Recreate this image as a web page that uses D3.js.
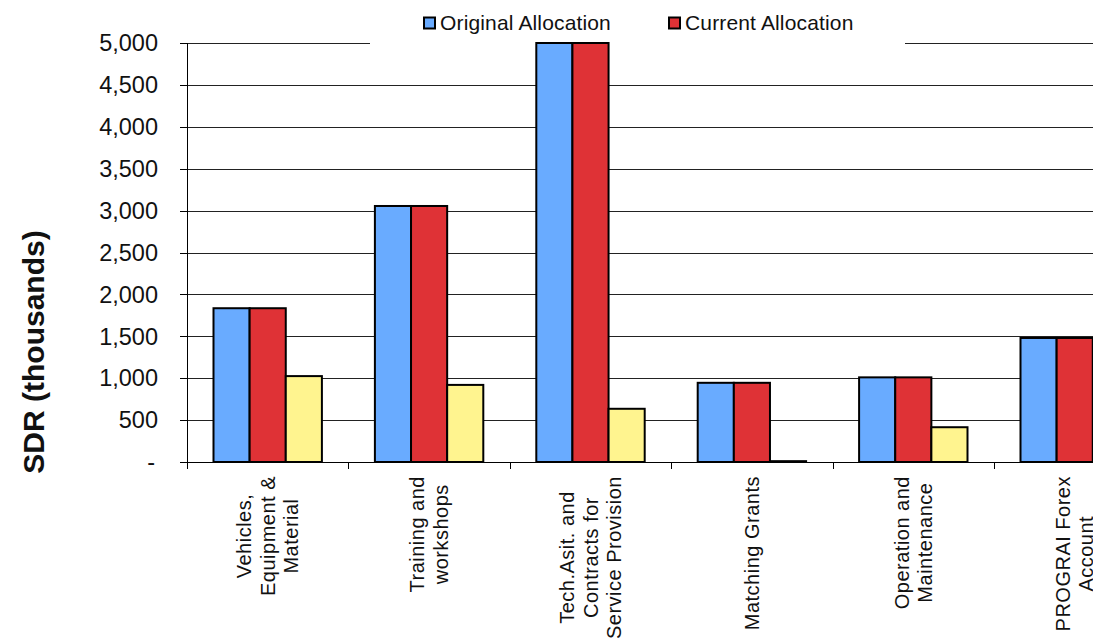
<!DOCTYPE html>
<html>
<head>
<meta charset="utf-8">
<script src="https://cdn.jsdelivr.net/npm/d3@7"></script>
<style>
  body { margin: 0; background: #fff; }
  svg { display: block; font-family: "Liberation Sans", Arial, sans-serif; }
</style>
</head>
<body>
<div id="wrapper"></div>
<script>
// # Data
const categories = [
  "Vehicles,|Equipment &|Material",
  "Training and|workshops",
  "Tech.Asit. and|Contracts for|Service Provision",
  "Matching Grants",
  "Operation and|Maintenance",
  "PROGRAI Forex|Account",
];
const originalAllocation = [1835, 3055, 5000, 945, 1010, 1480];
const currentAllocation = [1835, 3055, 5000, 945, 1010, 1480];
const disbursed = [1025, 920, 635, 10, 415, 0];
const seriesNames = ["Original Allocation", "Current Allocation", "Disbursed"];
const legendNames = ["Original Allocation", "Current Allocation"];
const yTicks = [0, 500, 1000, 1500, 2000, 2500, 3000, 3500, 4000, 4500, 5000];

function drawBars() {
  // # Dimensions
  const dimensions = {
    width: 1093,
    height: 639,
    margin: { top: 43, left: 187 },
    bandWidth: 161.4,
    boundedHeight: 419,
  };

  const colors = {
    "Original Allocation": "#69abff",
    "Current Allocation": "#df3236",
    "Disbursed": "#fff48f",
  };

  const dataset = categories.map((c, i) => ({
    category: c,
    values: [originalAllocation[i], currentAllocation[i], disbursed[i]],
  }));

  // # Canvas
  const wrapper = d3.select("#wrapper")
    .append("svg")
    .attr("width", dimensions.width)
    .attr("height", dimensions.height);

  // # Scales
  const yScale = d3.scaleLinear()
    .domain([0, 5000])
    .range([dimensions.margin.top + dimensions.boundedHeight, dimensions.margin.top]);

  const xScale = d3.scaleBand()
    .domain(categories)
    .range([dimensions.margin.left, dimensions.margin.left + dimensions.bandWidth * categories.length]);

  const seriesScale = d3.scaleBand()
    .domain(seriesNames)
    .range([26.5, dimensions.bandWidth - 26.5]);

  const y0 = yScale(0);

  // # Gridlines
  wrapper.append("g")
    .selectAll("line")
    .data(yTicks.filter(d => d > 0))
    .join("line")
    .attr("x1", dimensions.margin.left)
    .attr("x2", dimensions.width)
    .attr("y1", d => Math.round(yScale(d)) + 0.5)
    .attr("y2", d => Math.round(yScale(d)) + 0.5)
    .attr("stroke", "#222")
    .attr("stroke-width", 1);

  // # Legend box (hides part of the top gridline)
  const legend = wrapper.append("g");
  legend.append("rect")
    .attr("x", 370)
    .attr("y", 0)
    .attr("width", 535)
    .attr("height", 44)
    .attr("fill", "#fff");

  const legendItems = legend.selectAll("g")
    .data(legendNames)
    .join("g")
    .attr("transform", (d, i) => `translate(${424 + i * 245}, 23)`);

  legendItems.append("rect")
    .attr("x", 0)
    .attr("y", -5.5)
    .attr("width", 11)
    .attr("height", 11)
    .attr("fill", d => colors[d])
    .attr("stroke", "#000")
    .attr("stroke-width", 2);

  legendItems.append("text")
    .attr("x", 16)
    .attr("y", 0)
    .attr("dy", "0.35em")
    .style("font-size", "21px")
    .style("letter-spacing", "0.15px")
    .attr("fill", "#111")
    .text(d => d);

  // # Bars
  const groups = wrapper.append("g")
    .selectAll("g")
    .data(dataset)
    .join("g")
    .attr("transform", d => `translate(${xScale(d.category)}, 0)`);

  groups.selectAll("rect")
    .data(d => d.values.map((v, i) => ({ series: seriesNames[i], value: v })))
    .join("rect")
    .attr("x", d => seriesScale(d.series))
    .attr("y", d => yScale(d.value))
    .attr("width", seriesScale.bandwidth())
    .attr("height", d => y0 - yScale(d.value))
    .attr("fill", d => colors[d.series])
    .attr("stroke", "#000")
    .attr("stroke-width", 2);

  // # Axes
  // y axis line + outside ticks
  wrapper.append("line")
    .attr("x1", dimensions.margin.left + 0.5)
    .attr("x2", dimensions.margin.left + 0.5)
    .attr("y1", dimensions.margin.top)
    .attr("y2", y0 + 3)
    .attr("stroke", "#000");

  wrapper.append("g")
    .selectAll("line")
    .data(yTicks)
    .join("line")
    .attr("x1", dimensions.margin.left - 7)
    .attr("x2", dimensions.margin.left)
    .attr("y1", d => Math.round(yScale(d)) + 0.5)
    .attr("y2", d => Math.round(yScale(d)) + 0.5)
    .attr("stroke", "#000");

  wrapper.append("g")
    .selectAll("text")
    .data(yTicks)
    .join("text")
    .attr("x", d => d === 0 ? 155 : 158)
    .attr("y", d => yScale(d))
    .attr("dy", "0.35em")
    .attr("text-anchor", "end")
    .style("font-size", "23.5px")
    .attr("fill", "#111")
    .text(d => d === 0 ? "-" : d3.format(",")(d));

  // x axis baseline + ticks between categories
  wrapper.append("line")
    .attr("x1", dimensions.margin.left)
    .attr("x2", dimensions.width)
    .attr("y1", Math.round(y0) + 0.5)
    .attr("y2", Math.round(y0) + 0.5)
    .attr("stroke", "#000");

  wrapper.append("g")
    .selectAll("line")
    .data(categories)
    .join("line")
    .attr("x1", d => Math.round(xScale(d)) + 0.5)
    .attr("x2", d => Math.round(xScale(d)) + 0.5)
    .attr("y1", y0)
    .attr("y2", y0 + 7)
    .attr("stroke", "#000");

  // category labels, rotated, lines centred
  const labelTop = 476;
  const lineHeight = 23.5;
  dataset.forEach(d => {
    const lines = d.category.split("|");
    const cx = xScale(d.category) + xScale.bandwidth() / 2;
    const label = wrapper.append("text")
      .attr("transform", `translate(${cx}, ${labelTop}) rotate(-90)`)
      .attr("text-anchor", "middle")
      .style("font-size", "20px")
      .style("letter-spacing", "0.5px")
      .attr("fill", "#111");
    const tspans = lines.map((line, i) => label.append("tspan")
      .attr("y", (i - (lines.length - 1) / 2) * lineHeight)
      .attr("dy", "0.35em")
      .text(line));
    const maxW = d3.max(tspans, t => t.node().getComputedTextLength());
    tspans.forEach(t => t.attr("x", -maxW / 2));
  });

  // y axis title
  wrapper.append("text")
    .attr("transform", "translate(44, 352) rotate(-90)")
    .attr("text-anchor", "middle")
    .style("font-size", "30px")
    .style("font-weight", "bold")
    .attr("fill", "#111")
    .text("SDR (thousands)");
}
drawBars();
</script>
</body>
</html>
